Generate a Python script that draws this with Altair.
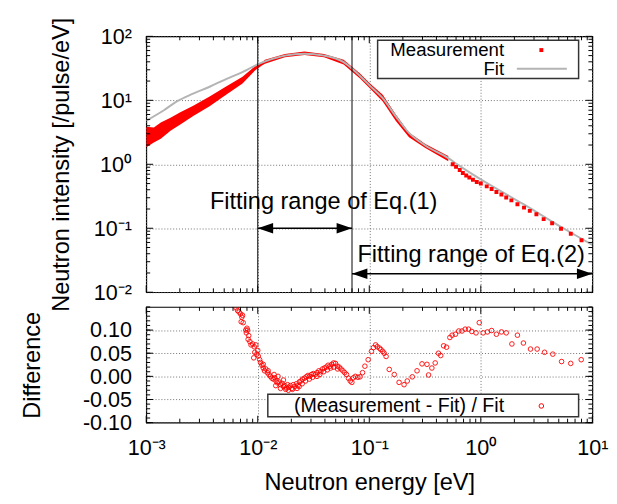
import altair as alt
import pandas as pd

FONT = "Liberation Sans"

# ---- top panel: measurement (dense noisy band, low / high edges) ----
band_E = [0.001, 0.00117, 0.00135, 0.00165, 0.00202, 0.00264, 0.0037, 0.0052, 0.0073, 0.0095,
          0.0109, 0.0116, 0.0175, 0.0262, 0.0393, 0.0589, 0.0826, 0.101, 0.132, 0.173, 0.227, 0.318, 0.511]
band_hi = [3.85, 3.76, 4.5, 5.35, 6.5, 8.25, 11.5, 16.4, 23.3, 34.5,
           39.5, 42.9, 53.0, 58.2, 53.0, 42.9, 26.2, 18.5, 12.2, 6.0, 3.15, 2.08, 1.35]
band_lo = [1.85, 2.2, 2.5, 3.34, 4.2, 5.7, 8.1, 12.2, 18.4, 29.5,
           35.0, 37.2, 47.1, 51.2, 47.1, 36.3, 21.9, 15.5, 9.6, 4.75, 2.64, 1.79, 1.12]

# ---- top panel: measurement (separate points at high energy) ----
meas_E = [0.56, 0.60, 0.647, 0.69, 0.74, 0.79, 0.85, 0.92, 1.0, 1.13, 1.25, 1.38, 1.53, 1.69,
          1.88, 2.13, 2.44, 2.75, 3.15, 3.66, 4.36, 5.24, 6.41, 8.0]
meas_I = [1.0, 0.91, 0.815, 0.73, 0.67, 0.62, 0.575, 0.53, 0.5, 0.452, 0.411, 0.37, 0.337, 0.303,
          0.273, 0.237, 0.21, 0.187, 0.166, 0.139, 0.12, 0.098, 0.082, 0.065]

# ---- top panel: fit ----
fit_E = [0.001, 0.00144, 0.00188, 0.0026, 0.0037, 0.0052, 0.00728, 0.0089, 0.0102, 0.0133, 0.0175,
         0.0262, 0.0393, 0.0589, 0.0698, 0.0826, 0.101, 0.132, 0.173, 0.227, 0.318, 0.511, 0.625,
         1.0, 2.41, 5.5, 10.0]
fit_I = [4.8, 7.0, 9.6, 12.6, 16.3, 21.5, 27.7, 33.0, 37.0, 44.0, 50.0,
         53.5, 50.0, 39.5, 31.5, 24.0, 17.0, 10.8, 5.6, 3.1, 1.97, 1.25, 0.98,
         0.58, 0.238, 0.1, 0.055]

# ---- fitting ranges ----
range_lines = [0.01, 0.07]
arrow_E1 = [0.01, 0.07]
arrow_E2 = [0.07, 10.0]
arrow_I = [0.1, 0.0195]
ann_E = [0.039, 0.82]
ann_I = [0.257, 0.0385]
ann_text = ["Fitting range of Eq.(1)", "Fitting range of Eq.(2)"]

# ---- bottom panel: (Measurement - Fit) / Fit ----
diff_E = [0.0064, 0.0066, 0.0068, 0.0070, 0.0072, 0.0073, 0.0071, 0.0074, 0.0078, 0.0080,
          0.0081, 0.0079, 0.0083, 0.0082, 0.0085, 0.0087, 0.0090, 0.0093, 0.0096, 0.0092,
          0.0094, 0.0098, 0.0101, 0.0104, 0.0106, 0.0109, 0.0112, 0.0115, 0.0118, 0.0122,
          0.0126, 0.0130, 0.0134, 0.0138, 0.0142, 0.0146, 0.0150, 0.0155, 0.0160, 0.0165,
          0.0170, 0.0175, 0.0180, 0.0185, 0.0190, 0.0196, 0.0202, 0.0208, 0.0215, 0.0222,
          0.0229, 0.0236, 0.0244, 0.0252, 0.0262, 0.0272, 0.0282, 0.0292, 0.0303, 0.0315,
          0.0327, 0.0340, 0.0353, 0.0367, 0.0381, 0.0396, 0.0411, 0.0427, 0.0444, 0.0461,
          0.0479, 0.0498, 0.0517, 0.0537, 0.0558, 0.0580, 0.0602, 0.0625, 0.0650, 0.0675,
          0.0698, 0.0145, 0.0160, 0.0178, 0.0188, 0.0205, 0.0225, 0.0235, 0.0250, 0.0268,
          0.0290, 0.0310, 0.0340, 0.0360, 0.0390, 0.0420, 0.0450, 0.0480, 0.0520, 0.0140,
          0.0152, 0.0170, 0.0124, 0.0112, 0.0100,
          0.0721, 0.0750, 0.0790, 0.0826, 0.0870, 0.0913, 0.0977, 0.1045, 0.109, 0.114,
          0.118, 0.1236, 0.127, 0.132, 0.136, 0.1415, 0.151, 0.1675, 0.185, 0.205,
          0.219, 0.243, 0.268, 0.297, 0.329, 0.340, 0.364, 0.390, 0.417, 0.437,
          0.464, 0.493, 0.528, 0.553, 0.592, 0.634, 0.678, 0.725, 0.776, 0.830,
          0.906, 0.969, 1.05, 1.146, 1.25, 1.38, 1.53, 1.69, 1.9, 2.13,
          2.41, 2.79, 3.2, 3.73, 4.42, 5.3, 6.4, 7.95]
diff_D = [0.148, 0.142, 0.139, 0.135, 0.128, 0.132, 0.118, 0.116, 0.100, 0.104,
          0.100, 0.094, 0.088, 0.080, 0.075, 0.068, 0.070, 0.064, 0.068, 0.040,
          0.052, 0.048, 0.044, 0.036, 0.030, 0.024, 0.018, 0.012, 0.016, 0.008,
          0.004, 0.000, -0.004, -0.006, -0.003, -0.010, -0.014, -0.012, -0.018, -0.015,
          -0.022, -0.020, -0.025, -0.018, -0.024, -0.020, -0.026, -0.018, -0.022, -0.016,
          -0.020, -0.012, -0.010, -0.006, -0.004, -0.001, 0.002, 0.000, 0.004, 0.006,
          0.004, 0.008, 0.012, 0.010, 0.016, 0.018, 0.020, 0.024, 0.022, 0.026,
          0.029, 0.028, 0.022, 0.020, 0.016, 0.012, 0.008, 0.004, -0.004, -0.010,
          -0.013, -0.020, -0.026, -0.028, -0.030, -0.028, -0.026, -0.022, -0.016, -0.010,
          -0.006, -0.002, 0.000, 0.004, 0.010, 0.014, 0.018, 0.020, 0.016, 0.004,
          0.000, -0.008, 0.012, 0.026, 0.056,
          -0.003, 0.000, -0.002, -0.001, 0.008, 0.022, 0.036, 0.054, 0.062, 0.068,
          0.064, 0.061, 0.058, 0.054, 0.050, 0.043, 0.015, 0.004, -0.013, -0.018,
          -0.010, -0.001, 0.012, 0.027, 0.026, 0.003, 0.018, 0.029, 0.050, 0.045,
          0.066, 0.063, 0.084, 0.089, 0.091, 0.098, 0.098, 0.102, 0.102, 0.097,
          0.094, 0.116, 0.094, 0.096, 0.099, 0.091, 0.096, 0.094, 0.070, 0.089,
          0.072, 0.059, 0.059, 0.052, 0.048, 0.032, 0.028, 0.036]

# ---- axis ticks / labels ----
x_major = [0.001, 0.01, 0.1, 1, 10]
y_major_top = [0.01, 0.1, 1, 10, 100]
y_major_bot = [-0.10, -0.05, 0.0, 0.05, 0.10]

x_minor = [k * 10.0 ** n for n in range(-3, 1) for k in range(2, 10)]
y_minor_top = [k * 10.0 ** n for n in range(-2, 2) for k in range(2, 10)]
y_minor_bot = [round(-0.10 + 0.01 * i, 2) for i in range(26)]

W, H1, H2 = 455, 261, 118

e = "round(log(datum.value)/LN10)"
sup = {-3: "10⁻³", -2: "10⁻²", -1: "10⁻¹", 0: "10⁰", 1: "10¹", 2: "10²"}
pow_expr = ""
for k, v in sup.items():
    pow_expr += f"{e} == {k} ? '{v}' : "
pow_expr += "''"

grid = dict(grid=True, gridColor="#707070", gridDash=[1, 2], gridWidth=1, ticks=False, domain=False,
            labelFlush=False, labelOverlap=False)

xs = alt.Scale(type="log", domain=[1e-3, 10])
ys_top = alt.Scale(type="log", domain=[1e-2, 100])
ys_bot = alt.Scale(type="linear", domain=[-0.10, 0.15], nice=False, zero=False)

ax_x_top = alt.Axis(values=x_major, labels=False, title=None, **grid)
ax_y_top = alt.Axis(values=y_major_top, labelExpr=pow_expr, labelPadding=15,
                    title="Neutron intensity [/pulse/eV]", titleX=-86, titleY=H1 / 2,
                    titleAngle=270, titleBaseline="middle", titleAlign="center", **grid)
ax_x_bot = alt.Axis(values=x_major, labelExpr=pow_expr, labelPadding=33, labelBaseline="alphabetic",
                    title="Neutron energy [eV]", titleY=61, titleBaseline="middle", **grid)
ax_y_bot = alt.Axis(values=y_major_bot,
                    labelExpr="replace(format(datum.value, '.2f'), '\u2212', '-')",
                    labelPadding=15, title="Difference", titleX=-116, titleY=H2 / 2,
                    titleAngle=270, titleBaseline="middle", titleAlign="center", **grid)

one = pd.DataFrame({"k": [0]})


def tick_layers(xvals_major, xvals_minor, yvals_major, yvals_minor, xscale, yscale, h, xax, yax):
    out = []
    for vals, ln in ((xvals_major, 7), (xvals_minor, 4)):
        d = pd.DataFrame({"v": vals})
        base = alt.Chart(d).mark_rule(color="black", strokeWidth=1)
        out.append(base.encode(x=alt.X("v:Q", scale=xscale, axis=xax), y=alt.value(0), y2=alt.value(ln)))
        out.append(base.encode(x=alt.X("v:Q", scale=xscale, axis=xax), y=alt.value(h - ln), y2=alt.value(h)))
    for vals, ln in ((yvals_major, 7), (yvals_minor, 4)):
        d = pd.DataFrame({"v": vals})
        base = alt.Chart(d).mark_rule(color="black", strokeWidth=1)
        out.append(base.encode(y=alt.Y("v:Q", scale=yscale, axis=yax), x=alt.value(0), x2=alt.value(ln)))
        out.append(base.encode(y=alt.Y("v:Q", scale=yscale, axis=yax), x=alt.value(W - ln), x2=alt.value(W)))
    return out


# ---------------- top panel ----------------
df_band = pd.DataFrame({"E": band_E, "hi": band_hi, "lo": band_lo})
df_meas = pd.DataFrame({"E": meas_E, "I": meas_I})
df_fit = pd.DataFrame({"E": fit_E, "I": fit_I})
df_vl = pd.DataFrame({"E": range_lines})
df_arr = pd.DataFrame({"E1": arrow_E1, "E2": arrow_E2, "I": arrow_I})
df_ann = pd.DataFrame({"E": ann_E, "I": ann_I, "t": ann_text})

X = lambda f: alt.X(f, scale=xs, axis=ax_x_top)
Y = lambda f: alt.Y(f, scale=ys_top, axis=ax_y_top)

band = alt.Chart(df_band).mark_area(color="#ff0000", opacity=1, clip=True).encode(
    x=X("E:Q"), y=Y("hi:Q"), y2="lo:Q")
meas = alt.Chart(df_meas).mark_square(color="#ff0000", size=16, opacity=1, clip=True).encode(
    x=X("E:Q"), y=Y("I:Q"))
fit = alt.Chart(df_fit).mark_line(color="#b4b4b4", strokeWidth=2, clip=True, interpolate="monotone").encode(
    x=X("E:Q"), y=Y("I:Q"))
vlines = alt.Chart(df_vl).mark_rule(color="black", strokeWidth=1).encode(x=X("E:Q"))
shafts = alt.Chart(df_arr).mark_rule(color="black", strokeWidth=1.5).encode(
    x=X("E1:Q"), x2="E2:Q", y=Y("I:Q"))
RIGHT = "M0,0L-1.57,-0.53L-1.57,0.53Z"
LEFT = "M0,0L1.57,-0.53L1.57,0.53Z"
heads_r = alt.Chart(df_arr).mark_point(shape=RIGHT, filled=True, color="black", size=400, opacity=1).encode(
    x=X("E2:Q"), y=Y("I:Q"))
heads_l = alt.Chart(df_arr).mark_point(shape=LEFT, filled=True, color="black", size=400, opacity=1).encode(
    x=X("E1:Q"), y=Y("I:Q"))
ann = alt.Chart(df_ann).mark_text(font=FONT, fontSize=24, color="black", align="center", baseline="middle").encode(
    x=X("E:Q"), y=Y("I:Q"), text="t:N")

leg_box = alt.Chart(one).mark_rect(fill="white", stroke="#333333", strokeWidth=1.5).encode(
    x=alt.value(236), x2=alt.value(441), y=alt.value(4), y2=alt.value(43))
leg_t1 = alt.Chart(one).mark_text(font=FONT, fontSize=19, align="right", baseline="middle", color="black").encode(
    x=alt.value(365), y=alt.value(14), text=alt.value("Measurement"))
leg_t2 = alt.Chart(one).mark_text(font=FONT, fontSize=19, align="right", baseline="middle", color="black").encode(
    x=alt.value(365), y=alt.value(33), text=alt.value("Fit"))
leg_m = alt.Chart(one).mark_square(color="#ff0000", size=16, opacity=1).encode(
    x=alt.value(403), y=alt.value(14))
leg_l = alt.Chart(one).mark_rule(color="#b4b4b4", strokeWidth=2).encode(
    x=alt.value(378), x2=alt.value(429), y=alt.value(33))

top = alt.layer(
    band, fit, meas, vlines, shafts, heads_r, heads_l, ann,
    *tick_layers(x_major, x_minor, y_major_top, y_minor_top, xs, ys_top, H1, ax_x_top, ax_y_top),
    leg_box, leg_t1, leg_t2, leg_m, leg_l,
).properties(width=W, height=H1)

# ---------------- bottom panel ----------------
df_diff = pd.DataFrame({"E": diff_E, "D": diff_D})
diff = alt.Chart(df_diff).mark_point(shape="circle", filled=False, color="#ff0000", size=22,
                                     strokeWidth=1, opacity=0.9, clip=True).encode(
    x=alt.X("E:Q", scale=xs, axis=ax_x_bot), y=alt.Y("D:Q", scale=ys_bot, axis=ax_y_bot))

leg2_box = alt.Chart(one).mark_rect(fill="white", stroke="#333333", strokeWidth=1.5).encode(
    x=alt.value(124), x2=alt.value(441), y=alt.value(89), y2=alt.value(112))
leg2_t = alt.Chart(one).mark_text(font=FONT, fontSize=20, align="right", baseline="middle", color="black").encode(
    x=alt.value(365), y=alt.value(101), text=alt.value("(Measurement - Fit) / Fit"))
leg2_m = alt.Chart(one).mark_point(shape="circle", filled=False, color="#ff0000", size=22, strokeWidth=1, opacity=1).encode(
    x=alt.value(403), y=alt.value(101))

bottom = alt.layer(
    diff,
    *tick_layers(x_major, x_minor, y_major_bot, y_minor_bot, xs, ys_bot, H2, ax_x_bot, ax_y_bot),
    leg2_box, leg2_t, leg2_m,
).properties(width=W, height=H2)

chart = alt.vconcat(top, bottom, spacing=15, bounds="flush").properties(
    padding={"left": 12, "top": 3, "right": 0, "bottom": 0},
    background="white",
).configure_axis(
    labelFont=FONT, titleFont=FONT, labelFontSize=22, titleFontSize=24,
    titleFontWeight="normal", labelColor="black", titleColor="black",
).configure_view(stroke="black", strokeWidth=1.2)

chart.save("out.html", embed_options={"renderer": "svg", "actions": False})
